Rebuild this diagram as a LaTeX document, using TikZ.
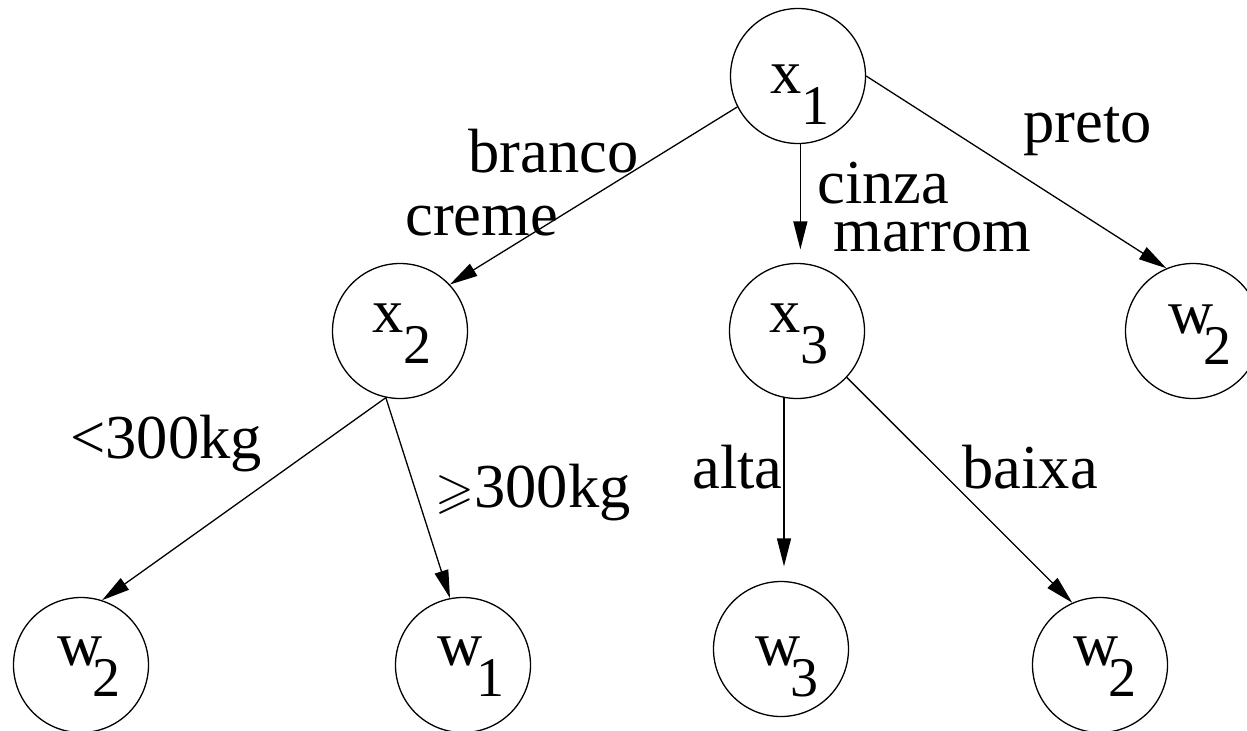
\documentclass[tikz,border=0pt]{standalone}
\usepackage{amssymb}
\usepackage{fontspec}
\setmainfont{Liberation Serif}
\usetikzlibrary{arrows.meta}
\newcommand\lowidx[1]{\raisebox{-15.5pt}{\fontsize{28}{30}\selectfont #1}}
\begin{document}
\begin{tikzpicture}[x=0.5pt,y=-0.5pt,
  state/.style={circle,draw,line width=0.65pt,minimum size=67.5pt,inner sep=0pt},
  stxt/.style={anchor=base west,inner sep=0pt,font=\fontsize{31.25}{34}\selectfont},
  lbl/.style={anchor=base west,inner sep=0pt,font=\fontsize{31.25}{34}\selectfont},
  arr/.style={line width=0.65pt,-{Triangle[length=14pt,width=7pt]}}]
\useasboundingbox (0,0) rectangle (1247,730);
\clip (0,0) rectangle (1247,730);
% circles
\node[state] (x1) at (798,76) {};
\node[state] (x2) at (400,331) {};
\node[state] (x3) at (797,331) {};
\node[state] (w2r) at (1193,331) {};
\node[state] (w2a) at (81,665) {};
\node[state] (w1) at (463,665) {};
\node[state] (w3) at (781,649) {};
\node[state] (w2b) at (1100,665) {};
% circle texts
\node[stxt] (x1t) at (770,93) {x\lowidx{1}};
\node[stxt] (x2t) at (372,332) {x\lowidx{2}};
\node[stxt] (x3t) at (769,332) {x\lowidx{3}};
\node[stxt] (w2rt) at (1168,333) {w\kern-5pt\lowidx{2}};
\node[stxt] (w2at) at (57,665) {w\kern-5pt\lowidx{2}};
\node[stxt] (w1t) at (437,665) {w\kern-3pt\lowidx{1}};
\node[stxt] (w3t) at (755,665) {w\kern-5pt\lowidx{3}};
\node[stxt] (w2bt) at (1073,665) {w\kern-5pt\lowidx{2}};
% connectors
\draw[arr] (x1.207) -- (x2.43);
\draw[arr,shorten >=6.75pt] (x1.272) -- (x1.272 |- x3.north);
\draw[arr] (x1.east) -- (w2r.113);
\draw[arr] (x2.258) -- (w2a.72);
\draw[arr] (x2.258) -- (w1.101);
\draw[arr,shorten >=7.25pt] (x3.259) -- (x3.259 |- w3.north);
\draw[arr] (x3.317) -- (w2b.114);
% labels
\node[lbl] (lbranco) at (468,172) {branco};
\node[lbl] (lcreme) at (405,235) {creme};
\node[lbl] (lpreto) at (1023,142) {preto};
\node[lbl] (lcinza) at (817,203) {cinza};
\node[lbl] (lmarrom) at (833,251) {marrom};
\node[lbl] (llt) at (70,458) {<300kg};
\node[lbl] (lge) at (435,507) {\scalebox{0.8}{$\geqslant$}300kg};
\node[lbl] (lalta) at (692,488) {alta};
\node[lbl] (lbaixa) at (962,488) {baixa};
\end{tikzpicture}
\end{document}
